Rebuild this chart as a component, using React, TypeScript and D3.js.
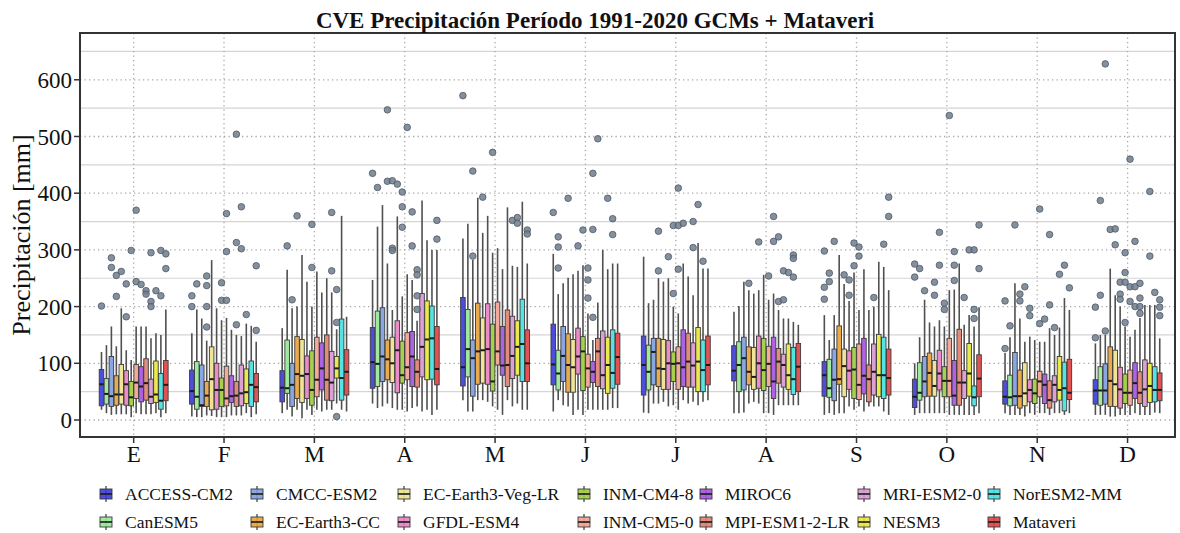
import React from "react";
import * as d3 from "d3";

const months = ["E", "F", "M", "A", "M", "J", "J", "A", "S", "O", "N", "D"];
const seriesNames = [
  "ACCESS-CM2", "CanESM5", "CMCC-ESM2", "EC-Earth3-CC", "EC-Earth3-Veg-LR", "GFDL-ESM4", "INM-CM4-8",
  "INM-CM5-0", "MIROC6", "MPI-ESM1-2-LR", "MRI-ESM2-0", "NESM3", "NorESM2-MM", "Mataveri",
];
const seriesColors = [
  "#3b3bd8", "#95e895", "#7c9fe0", "#e8a23c", "#eee18e", "#ea80c2", "#9ccc3c",
  "#f2a190", "#a452e0", "#e0806e", "#d898d4", "#e8e83c", "#44e0e0", "#e04040",
];
const yTicks = [0, 100, 200, 300, 400, 500, 600];
const yMinor = [50, 150, 250, 350, 450, 550, 650];

// [whisker low, q1, median, q3, whisker high] per series
const statsE = [[18,25,63,89,120],[12,28,46,73,132],[9,24,42,112,165],[10,26,45,78,130],[10,28,45,98,197],[10,26,63,87,123],[5,25,40,68,106],[12,38,66,98,165],[10,32,59,94,165],[10,35,65,108,165],[10,29,41,72,144],[12,31,45,104,153],[5,19,34,82,150],[12,34,62,105,195]];
const statsF = [[6,28,51,88,153],[5,19,41,103,195],[5,24,26,97,179],[8,24,43,68,140],[7,18,72,129,282],[5,19,53,100,197],[5,24,53,74,176],[5,25,38,95,180],[8,31,42,78,159],[8,24,43,68,150],[8,25,47,97,148],[12,29,49,90,170],[5,24,62,104,166],[10,32,58,82,138]];
const statsM = [[12,32,57,87,162],[18,47,56,141,265],[6,24,62,100,197],[18,38,81,147,200],[3,31,78,142,291],[18,38,81,113,244],[9,26,53,122,200],[18,41,71,146,262],[15,53,91,136,225],[18,35,71,150,250],[18,34,66,121,225],[29,74,91,112,160],[18,35,74,178,360],[15,44,85,124,182]];
const statsA = [[29,56,102,163,247],[21,59,99,192,341],[24,68,112,198,379],[29,71,107,141,276],[21,66,100,146,194],[18,48,123,175,359],[18,65,79,139,218],[15,71,93,154,257],[21,59,112,156,247],[24,58,85,106,175],[15,76,129,223,387],[18,71,142,210,317],[9,72,144,201,300],[18,62,90,165,300]];
const statsMy = [[35,60,93,216,320],[15,76,125,195,346],[15,42,109,141,282],[35,63,121,206,392],[35,65,123,180,330],[32,63,125,205,360],[24,51,68,169,295],[18,97,121,208,303],[9,79,96,165,266],[35,59,97,194,375],[24,73,113,183,272],[29,79,129,175,270],[18,68,134,213,385],[18,68,100,159,276]];
const statsJn = [[15,62,98,169,293],[35,53,82,123,222],[26,68,113,165,241],[24,49,97,152,251],[9,49,93,142,257],[18,81,112,162,263],[9,52,121,147,273],[18,58,91,116,188],[18,66,85,103,141],[18,59,121,144,207],[18,55,79,157,300],[18,47,97,146,266],[21,56,83,159,276],[21,63,111,153,276]];
const statsJl = [[13,44,97,148,288],[12,53,85,132,206],[29,62,120,144,212],[29,59,91,144,250],[32,54,90,142,244],[24,54,100,140,250],[26,68,99,120,200],[18,54,100,129,188],[35,59,93,159,276],[29,58,103,153,253],[32,58,96,136,220],[26,50,103,163,312],[32,50,88,141,267],[35,62,97,148,267]];
const statsAg = [[12,69,87,131,191],[12,50,97,138,201],[13,53,109,146,244],[29,62,85,129,229],[32,54,76,128,223],[29,56,100,148,229],[12,52,88,144,256],[12,59,99,130,212],[9,38,68,146,223],[26,65,103,126,194],[26,58,97,116,179],[26,54,79,134,179],[26,45,72,128,173],[26,50,94,135,168]];
const statsS = [[9,42,79,103,185],[12,40,56,107,141],[9,34,71,125,185],[12,63,72,166,291],[12,41,95,125,240],[24,54,87,122,210],[18,38,89,128,260],[24,36,62,134,194],[15,46,78,144,266],[24,32,72,97,194],[24,44,85,134,200],[24,41,79,151,279],[15,38,79,146,270],[9,44,74,125,229]];
const statsO = [[9,22,41,72,100],[12,35,48,101,146],[12,41,68,112,212],[12,42,83,118,172],[12,42,60,105,165],[12,53,82,123,176],[12,41,69,94,165],[9,41,69,144,229],[9,26,43,105,230],[9,26,66,160,276],[9,38,66,87,168],[9,42,82,135,185],[9,25,40,60,165],[12,41,73,115,199]];
const statsN = [[12,28,41,69,118],[9,25,40,79,146],[9,26,42,119,241],[9,21,42,88,179],[6,25,47,101,138],[12,32,53,71,147],[9,29,47,72,141],[12,41,68,86,138],[12,29,62,81,138],[9,21,35,69,162],[12,32,62,78,150],[12,35,53,112,163],[9,16,56,102,215],[12,36,48,107,194]];
const statsD = [[9,28,52,71,135],[9,26,52,94,150],[9,28,52,99,150],[6,24,69,129,267],[6,24,63,123,220],[9,21,54,93,200],[9,29,48,81,165],[9,26,48,88,147],[12,38,65,101,159],[9,29,48,85,180],[9,24,54,106,203],[9,31,60,100,203],[13,32,53,94,203],[12,34,53,83,144]];

// [series index, value]
const outE = [[0,201],[2,286],[2,269],[3,255],[3,218],[4,262],[5,240],[5,182],[6,299],[7,370],[7,244],[8,239],[9,228],[9,222],[10,295],[10,209],[10,200],[11,228],[12,299],[12,219],[13,293],[13,267]];
const outF = [[0,219],[0,200],[1,240],[3,254],[3,237],[3,200],[3,164],[6,242],[6,211],[7,364],[7,297],[7,211],[9,504],[9,313],[9,168],[10,376],[10,302],[11,186],[13,272],[13,158]];
const outM = [[1,307],[2,212],[3,360],[6,345],[6,269],[10,366],[10,263],[11,230],[11,172],[11,6]];
const outA = [[0,435],[1,410],[3,547],[3,421],[4,422],[4,303],[4,299],[5,416],[6,402],[6,376],[6,340],[7,516],[8,367],[8,307],[9,265],[9,256],[9,219],[9,195],[13,352],[13,319]];
const outMy = [[0,572],[2,439],[2,289],[4,393],[6,472],[10,352],[11,357],[11,347],[13,335],[13,328]];
const outJn = [[0,366],[1,323],[1,305],[1,268],[3,391],[5,307],[6,335],[7,268],[7,247],[7,215],[8,435],[8,336],[8,181],[9,496],[11,391],[12,355],[12,327]];
const outJl = [[3,333],[3,263],[5,288],[6,343],[6,223],[7,409],[7,343],[7,266],[8,347],[10,350],[10,304],[11,380],[12,280]];
const outAg = [[3,241],[5,314],[7,254],[8,359],[8,315],[9,323],[9,209],[10,263],[10,212],[11,260],[12,291],[12,285],[12,252]];
const outS = [[0,298],[0,234],[0,213],[1,259],[1,244],[2,315],[4,256],[5,247],[5,220],[6,312],[6,272],[7,305],[7,289],[10,216],[12,310],[13,393],[13,359]];
const outO = [[0,275],[0,252],[1,267],[2,228],[4,243],[4,220],[5,331],[5,273],[6,206],[6,195],[7,537],[8,297],[8,273],[8,246],[10,216],[11,300],[12,300],[12,195],[12,179],[13,344],[13,267]];
const outN = [[0,210],[0,126],[1,166],[2,344],[3,222],[3,210],[4,235],[5,197],[5,184],[7,372],[7,170],[8,178],[9,327],[9,203],[10,163],[11,257],[12,273],[13,233]];
const outD = [[0,199],[0,145],[1,387],[1,220],[2,628],[2,157],[3,336],[4,337],[4,309],[5,243],[5,222],[5,213],[6,295],[6,260],[6,243],[6,172],[7,460],[7,235],[7,209],[8,315],[8,235],[8,200],[9,241],[9,215],[9,200],[9,188],[11,403],[11,289],[12,225],[13,212],[13,199],[13,184]];

const monthStats = [statsE, statsF, statsM, statsA, statsMy, statsJn, statsJl, statsAg, statsS, statsO, statsN, statsD];
const monthOutliers = [outE, outF, outM, outA, outMy, outJn, outJl, outAg, outS, outO, outN, outD];

const FONT = "'Liberation Serif', 'Times New Roman', serif";

export default function App() {
  const W = 1180, H = 533;
  const left = 80, right = 1175, top = 33, bottom = 437;
  const x = d3.scaleLinear().domain([-0.594, 11.525]).range([left, right]);
  const y = d3.scaleLinear().domain([-30, 682.5]).range([bottom, top]);
  const inner = d3.scaleBand<number>().domain(d3.range(seriesNames.length)).range([-34.65, 34.65]);
  const bw = inner.bandwidth();
  const boxW = bw * 0.92;
  const off = (j: number) => (inner(j) as number) + bw / 2;

  const legendTextX = [125, 276, 423, 603, 725, 883, 1013];
  const legendRowY = [494, 522];

  return (
    <div style={{ position: "absolute", left: 0, top: 0 }}>
      <svg width={W} height={H} style={{ display: "block", background: "#fff" }} fontFamily={FONT}>
        <rect x={0} y={0} width={W} height={H} fill="#fff" />
        {yMinor.map((v) => (
          <line key={"mn" + v} x1={left} x2={right} y1={y(v)} y2={y(v)} stroke="#d4d4d4" strokeWidth={1.2} />
        ))}
        {yTicks.map((v) => (
          <line key={"mj" + v} x1={left} x2={right} y1={y(v)} y2={y(v)} stroke="#a8a8a8" strokeWidth={1.3} strokeDasharray="1.3,3.2" />
        ))}
        {months.map((m, i) => (
          <line key={"vg" + i} x1={x(i)} x2={x(i)} y1={top} y2={bottom} stroke="#a8a8a8" strokeWidth={1.3} strokeDasharray="1.3,3.2" />
        ))}
        {monthStats.map((stats, i) => (
          <g key={"m" + i}>
            {stats.map((s, j) => {
              const cx = x(i) + off(j);
              const [lo, q1, med, q3, hi] = s;
              return (
                <g key={"b" + j}>
                  <line x1={cx} x2={cx} y1={y(hi)} y2={y(q3)} stroke="#505050" strokeWidth={1.6} />
                  <line x1={cx} x2={cx} y1={y(q1)} y2={y(lo)} stroke="#505050" strokeWidth={1.6} />
                  <rect x={cx - boxW / 2} y={y(q3)} width={boxW} height={y(q1) - y(q3)} fill={seriesColors[j]} fillOpacity={0.9} stroke="#3a3a3a" strokeWidth={0.9} />
                  <line x1={cx - boxW / 2} x2={cx + boxW / 2} y1={y(med)} y2={y(med)} stroke="#1a1a1a" strokeWidth={2} />
                </g>
              );
            })}
            {monthOutliers[i].map((o, k) => (
              <circle key={"o" + k} cx={x(i) + off(o[0])} cy={y(o[1])} r={3.3} fill="#6e7c8c" fillOpacity={0.85} stroke="#4f5966" strokeWidth={0.8} />
            ))}
          </g>
        ))}
        <rect x={left} y={top} width={right - left} height={bottom - top} fill="none" stroke="#333" strokeWidth={2} />
        {yTicks.map((v) => (
          <g key={"yt" + v}>
            <line x1={left - 6} x2={left} y1={y(v)} y2={y(v)} stroke="#333" strokeWidth={1.5} />
            <text x={left - 8} y={y(v)} dy="0.35em" textAnchor="end" fontSize={23} fill="#111">{v}</text>
          </g>
        ))}
        {months.map((m, i) => (
          <g key={"xt" + i}>
            <line x1={x(i)} x2={x(i)} y1={bottom} y2={bottom + 6} stroke="#333" strokeWidth={1.5} />
            <text x={x(i)} y={bottom + 25} textAnchor="middle" fontSize={23} fill="#111">{m}</text>
          </g>
        ))}
        <text transform={`translate(30,${(top + bottom) / 2}) rotate(-90)`} textAnchor="middle" fontSize={26} fill="#111">Precipitación [mm]</text>
        <text x={595} y={28} textAnchor="middle" fontSize={23} fontWeight="bold" fill="#111">CVE Precipitación Período 1991-2020 GCMs + Mataveri</text>
        {seriesNames.map((name, k) => {
          const col = Math.floor(k / 2), row = k % 2;
          const tx = legendTextX[col], ly = legendRowY[row];
          const lx = tx - 25;
          return (
            <g key={"lg" + k}>
              <line x1={lx + 6} x2={lx + 6} y1={ly - 8} y2={ly + 8} stroke="#555" strokeWidth={1.4} />
              <rect x={lx} y={ly - 5} width={12} height={10} fill={seriesColors[k]} fillOpacity={0.9} stroke="#3a3a3a" strokeWidth={0.9} />
              <line x1={lx} x2={lx + 12} y1={ly} y2={ly} stroke="#1a1a1a" strokeWidth={1.6} />
              <text x={tx} y={ly} dy="0.35em" fontSize={17.5} fill="#111">{name}</text>
            </g>
          );
        })}
      </svg>
    </div>
  );
}
